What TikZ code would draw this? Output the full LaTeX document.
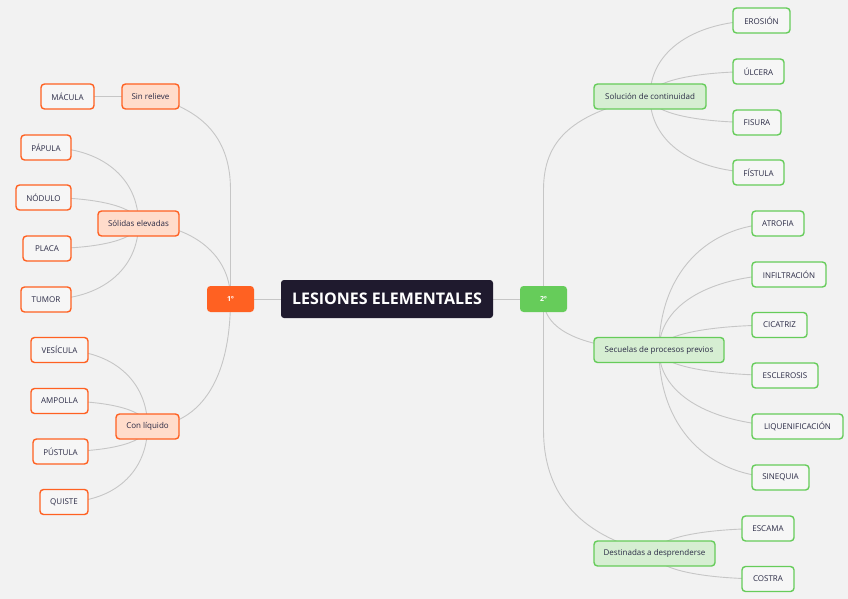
\documentclass[tikz,border=0pt]{standalone}
\usepackage{fontspec}
\setmainfont{Open Sans}
\usetikzlibrary{calc}
\definecolor{bgc}{HTML}{F2F2F2}
\definecolor{orng}{HTML}{FF6122}
\definecolor{orngl}{HTML}{FFDCCB}
\definecolor{grn}{HTML}{66CC5A}
\definecolor{grnl}{HTML}{D6EED2}
\definecolor{leaff}{HTML}{F6F6F6}
\definecolor{darkc}{HTML}{1F1A2E}
\definecolor{txt}{HTML}{2A2A45}
\definecolor{linec}{HTML}{C6C6C6}
\pgfdeclarelayer{bg}\pgfdeclarelayer{edges}\pgfsetlayers{bg,edges,main}
\newcommand\myconn[4]{\draw[conn] let \p1=(#1.center), \p2=(#2.center) in (\p1) .. controls ({\x1+#3*(\x2-\x1)},\y1) and (\x2,{\y1+#4*(\y2-\y1)}) .. (\p2);}
\begin{document}
\begin{tikzpicture}[x=1pt,y=-1pt,
 box/.style={rounded corners=3.5pt, minimum height=25pt, inner sep=0pt, font=\fontsize{8}{9.5}\selectfont, text=txt, line width=1.4pt},
 leafo/.style={box, draw=orng, fill=leaff},
 subo/.style={box, draw=orng, fill=orngl},
 leafg/.style={box, draw=grn, fill=leaff},
 subg/.style={box, draw=grn, fill=grnl},
 conn/.style={draw=linec, line width=0.9pt},
 numbox/.style={rounded corners=3.5pt, minimum width=47pt, minimum height=26pt, inner sep=0pt, text=white, font=\fontsize{7}{8}\selectfont\bfseries},
]
\useasboundingbox (0,0) rectangle (848,599);
\begin{pgfonlayer}{bg}
\fill[bgc] (0,0) rectangle (848,599);
\end{pgfonlayer}

% central
\node[fill=darkc, rounded corners=3pt, minimum width=212pt, minimum height=38pt, inner sep=0pt, text=white, font=\fontsize{16}{18}\selectfont\bfseries] (main) at (387,299) {LESIONES ELEMENTALES};
\node[numbox, fill=orng] (uno) at (230.5,299) {1º};
\node[numbox, fill=grn] (dos) at (543.5,299) {2º};

% left side
\node[subo, minimum width=57pt] (sinrel) at (150.5,96.5) {Sin relieve};
\node[leafo, minimum width=53pt] (macula) at (67.5,96.5) {MÁCULA};
\node[subo, minimum width=81pt] (solidas) at (138.5,223.5) {Sólidas elevadas};
\node[leafo, minimum width=50pt] (papula) at (46,147.5) {PÁPULA};
\node[leafo, minimum width=55pt] (nodulo) at (43.5,197.5) {NÓDULO};
\node[leafo, minimum width=48pt] (placa) at (47,248.5) {PLACA};
\node[leafo, minimum width=50pt] (tumor) at (46,299.5) {TUMOR};
\node[subo, minimum width=63pt] (conliq) at (147.5,426.5) {Con líquido};
\node[leafo, minimum width=57pt] (vesicula) at (59.5,350) {VESÍCULA};
\node[leafo, minimum width=57pt] (ampolla) at (59.5,401) {AMPOLLA};
\node[leafo, minimum width=55pt] (pustula) at (60.5,451.5) {PÚSTULA};
\node[leafo, minimum width=48pt] (quiste) at (64,502) {QUISTE};

% right side
\node[subg, minimum width=112pt] (solucion) at (650,96.5) {Solución de continuidad};
\node[leafg, minimum width=57pt] (erosion) at (761.5,20.5) {EROSIÓN};
\node[leafg, minimum width=51pt] (ulcera) at (758.5,71.5) {ÚLCERA};
\node[leafg, minimum width=48pt] (fisura) at (757,122.5) {FISURA};
\node[leafg, minimum width=51pt] (fistula) at (758.5,172.5) {FÍSTULA};
\node[subg, minimum width=130pt] (secuelas) at (659,350) {Secuelas de procesos previos};
\node[leafg, minimum width=52pt] (atrofia) at (778,223.5) {ATROFIA};
\node[leafg, minimum width=74pt] (infiltracion) at (789,274.5) {INFILTRACIÓN};
\node[leafg, minimum width=55pt] (cicatriz) at (779.5,325) {CICATRIZ};
\node[leafg, minimum width=66pt] (esclerosis) at (785,375.5) {ESCLEROSIS};
\node[leafg, minimum width=91pt] (liquen) at (797.5,426.5) {LIQUENIFICACIÓN};
\node[leafg, minimum width=57pt] (sinequia) at (780.5,477.5) {SINEQUIA};
\node[subg, minimum width=121pt] (destinadas) at (654.5,553.5) {Destinadas a desprenderse};
\node[leafg, minimum width=52pt] (escama) at (768,528.5) {ESCAMA};
\node[leafg, minimum width=52pt] (costra) at (768,579) {COSTRA};

\begin{pgfonlayer}{edges}
\draw[conn] (uno.center) -- (main.center);
\draw[conn] (main.center) -- (dos.center);
\draw[conn] (uno.center) -- (230.5,190) .. controls (230.5,140) and (205,110) .. (sinrel.center);
\myconn{solidas}{uno}{0.5}{0.35}
\myconn{conliq}{uno}{0.5}{0.25}
\draw[conn] (dos.center) -- (543.5,190) .. controls (543.5,140) and (572,113) .. (solucion.center);
\myconn{secuelas}{dos}{0.5}{0.25}
\draw[conn] (dos.center) -- (543.5,430) .. controls (543.5,490) and (575,535) .. (destinadas.center);
\myconn{macula}{sinrel}{0.6}{0.4}
\myconn{papula}{solidas}{0.6}{0.4}
\myconn{nodulo}{solidas}{0.6}{0.4}
\myconn{placa}{solidas}{0.6}{0.4}
\myconn{tumor}{solidas}{0.6}{0.4}
\myconn{vesicula}{conliq}{0.6}{0.4}
\myconn{ampolla}{conliq}{0.6}{0.4}
\myconn{pustula}{conliq}{0.6}{0.4}
\myconn{quiste}{conliq}{0.6}{0.4}
\myconn{erosion}{solucion}{0.6}{0.4}
\myconn{ulcera}{solucion}{0.6}{0.4}
\myconn{fisura}{solucion}{0.6}{0.4}
\myconn{fistula}{solucion}{0.6}{0.4}
\myconn{atrofia}{secuelas}{0.6}{0.4}
\myconn{infiltracion}{secuelas}{0.6}{0.4}
\myconn{cicatriz}{secuelas}{0.6}{0.4}
\myconn{esclerosis}{secuelas}{0.6}{0.4}
\myconn{liquen}{secuelas}{0.6}{0.4}
\myconn{sinequia}{secuelas}{0.6}{0.4}
\myconn{escama}{destinadas}{0.6}{0.4}
\myconn{costra}{destinadas}{0.6}{0.4}
\end{pgfonlayer}
\end{tikzpicture}
\end{document}
